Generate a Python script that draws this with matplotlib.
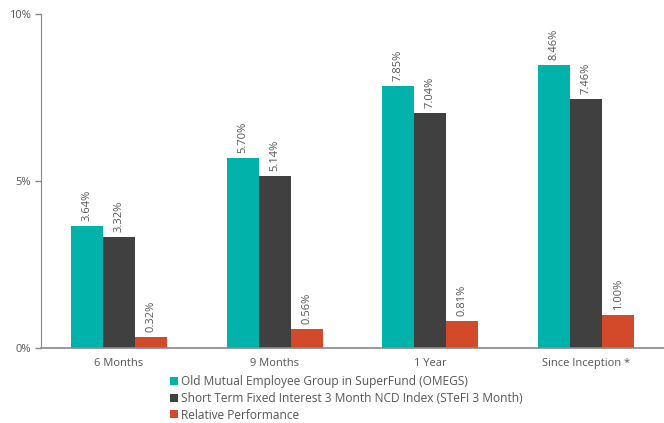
import numpy as np
import matplotlib
matplotlib.use('Agg')
import matplotlib.pyplot as plt
from matplotlib.patches import Patch

categories = ['6 Months', '9 Months', '1 Year', 'Since Inception *']
series_names = ['Old Mutual Employee Group in SuperFund (OMEGS)',
                'Short Term Fixed Interest 3 Month NCD Index (STeFI 3 Month)',
                'Relative Performance']
omegs = [3.64, 5.70, 7.85, 8.46]
stefi = [3.32, 5.14, 7.04, 7.46]
relative = [0.32, 0.56, 0.81, 1.00]
colors = ['#00b2a9', '#404040', '#d34a2a']

plt.rcParams['font.family'] = ['Open Sans', 'DejaVu Sans']
txt = '#555555'

fig = plt.figure(figsize=(6.64, 4.23), dpi=100)
ax = fig.add_axes([41 / 664, 1 - 348 / 423, 623 / 664, 334 / 423])

x = np.arange(len(categories))
w = 0.205
for i, (vals, c) in enumerate(zip([omegs, stefi, relative], colors)):
    pos = x + (i - 1) * w
    ax.bar(pos, vals, width=w, color=c, edgecolor='none')
    for p, v in zip(pos, vals):
        ax.text(p, v + 0.15, f'{v:.2f}%', rotation=90, ha='center', va='bottom',
                fontsize=8, color=txt)

ax.set_xlim(-0.5, 3.5)
ax.set_ylim(0, 10)
ax.set_yticks([0, 5, 10])
ax.set_yticklabels(['0%', '5%', '10%'])
ax.set_xticks(x)
ax.set_xticklabels(categories)
ax.tick_params(axis='x', length=0, pad=7, labelsize=8, colors=txt)
ax.tick_params(axis='y', length=4, width=1, labelsize=8, colors=txt, color='#888888')
for s in ['top', 'right']:
    ax.spines[s].set_visible(False)
ax.spines['left'].set_color('#888888')
ax.spines['bottom'].set_color('#888888')
ax.spines['bottom'].set_linewidth(1.2)

handles = [Patch(facecolor=c, edgecolor='none') for c in colors]
leg = fig.legend(handles, series_names, loc='upper left', bbox_to_anchor=(170 / 664, 1 - 375 / 423),
                 frameon=False, fontsize=8.6, handlelength=0.65, handleheight=0.65,
                 handletextpad=0.25, labelspacing=0.32, borderpad=0, borderaxespad=0)
for t in leg.get_texts():
    t.set_color(txt)

fig.savefig('out.png', dpi=100)
